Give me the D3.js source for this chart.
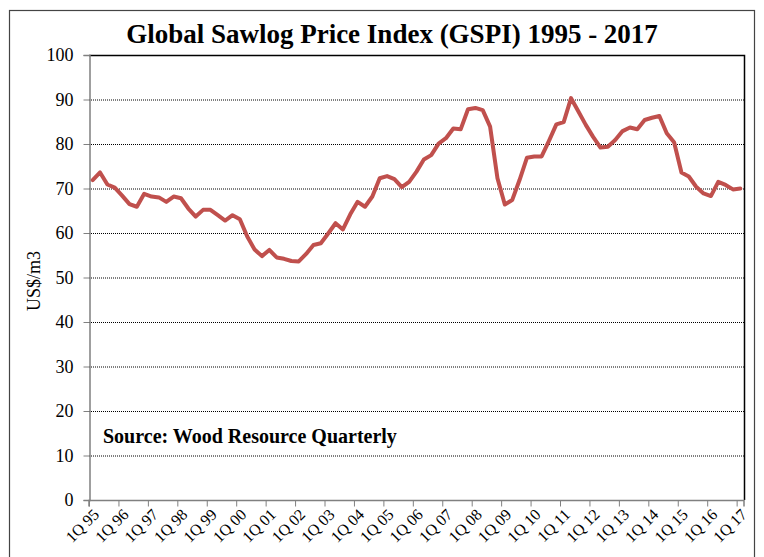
<!DOCTYPE html>
<html><head><meta charset="utf-8">
<script src="https://cdn.jsdelivr.net/npm/d3@7"></script>
<style>body{margin:0;background:#fff}</style>
</head><body>
<svg id="c" width="764" height="557"></svg>
<script>
const years = ["95","96","97","98","99","00","01","02","03","04","05","06","07","08","09","10","11","12","13","14","15","16","17"];
const quarters = [];
years.forEach(y => { for (let q = 1; q <= 4; q++) { if (y === "17" && q > 1) break; quarters.push(q + "Q " + y); } });
const values = [
 71.9,73.6,70.9,70.2,68.4,66.5,65.9,68.8,68.2,68.0,67.0,68.2,67.8,65.5,63.7,65.2,
 65.2,64.0,62.8,64.0,63.1,59.2,56.3,54.8,56.2,54.5,54.2,53.7,53.6,55.3,57.3,57.7,
 59.9,62.2,60.8,64.2,67.0,65.9,68.2,72.3,72.8,72.1,70.3,71.5,73.8,76.5,77.5,80.1,
 81.3,83.5,83.3,87.8,88.1,87.6,83.9,72.3,66.4,67.4,71.9,76.9,77.2,77.2,80.7,84.4,
 84.9,90.3,87.3,84.3,81.6,79.2,79.4,80.9,82.9,83.7,83.3,85.4,85.9,86.3,82.4,80.4,
 73.6,72.7,70.4,68.9,68.3,71.5,70.8,69.8,70.0
];
const yTicks = [0,10,20,30,40,50,60,70,80,90,100];
const title = "Global Sawlog Price Index (GSPI) 1995 - 2017";
const yTitle = "US$/m3";
const source = "Source: Wood Resource Quarterly";

const svg = d3.select("#c");
const L = 89, R = 744, T = 55, B = 500;
const serif = "'Liberation Serif','Times New Roman',serif";

// outer frame
svg.append("rect").attr("x",9.5).attr("y",10.5).attr("width",745).attr("height",600)
  .attr("fill","none").attr("stroke","#444").attr("stroke-width",1.2);

const x = d3.scaleBand().domain(quarters).range([L, R]).paddingInner(0).paddingOuter(0);
const y = d3.scaleLinear().domain([0,100]).range([B, T]);

// gridlines
svg.append("g").selectAll("line").data(yTicks.filter(d => d > 0 && d < 100)).join("line")
  .attr("x1", L).attr("x2", R).attr("y1", d => y(d)+0.5).attr("y2", d => y(d)+0.5)
  .attr("stroke","#000").attr("stroke-width",1).attr("stroke-dasharray","1,1");

// plot border top & right
svg.append("path").attr("d", `M${L},${T+0.5}H${R+0.5}V${B}`).attr("fill","none")
  .attr("stroke","#000").attr("stroke-width",1.5);

// y axis
const yAxis = d3.axisLeft(y).tickValues(yTicks).tickSize(6).tickPadding(10).tickFormat(d3.format("d"));
const gy = svg.append("g").attr("transform", `translate(${L+0.5},0)`).call(yAxis);
gy.select(".domain").attr("stroke","#808080").attr("stroke-width",1.5);
gy.selectAll(".tick line").attr("stroke","#808080");
gy.selectAll("text").attr("font-family", serif).attr("font-size", 18).attr("fill","#000");

// x axis
const tickCats = quarters.filter((d,i) => i % 4 === 0);
const xAxis = d3.axisBottom(x).tickValues(tickCats).tickSize(6);
const gx = svg.append("g").attr("transform", `translate(0,${B+0.5})`).call(xAxis);
gx.select(".domain").attr("stroke","#808080").attr("stroke-width",1.5).attr("d", `M${L},6V0H${R}V6`);
gx.selectAll(".tick").attr("transform", d => `translate(${x(d)+0.5},0)`);
gx.selectAll(".tick line").attr("stroke","#808080");
gx.selectAll(".tick text").attr("font-family", serif).attr("font-size", 16).attr("fill","#000")
  .attr("text-anchor","end").attr("dy",null).attr("y",null)
  .attr("transform", `translate(${x.bandwidth()/2+7},15) rotate(-45)`);

// line
const line = d3.line().x((d,i) => x(quarters[i]) + x.bandwidth()/2).y(d => y(d));
svg.append("path").datum(values).attr("d", line).attr("fill","none")
  .attr("stroke","#C0504D").attr("stroke-width",4).attr("stroke-linejoin","round").attr("stroke-linecap","round");

// title
svg.append("text").attr("x", 392).attr("y", 43).attr("text-anchor","middle")
  .attr("font-family", serif).attr("font-weight","bold").attr("font-size", 27).text(title);

// y title
svg.append("text").attr("transform","translate(40,281) rotate(-90)").attr("text-anchor","middle")
  .attr("font-family", serif).attr("font-size", 18).text(yTitle);

// source
svg.append("text").attr("x", 103).attr("y", 443).attr("font-family", serif).attr("font-weight","bold")
  .attr("font-size", 20).text(source);
</script>
</body></html>
